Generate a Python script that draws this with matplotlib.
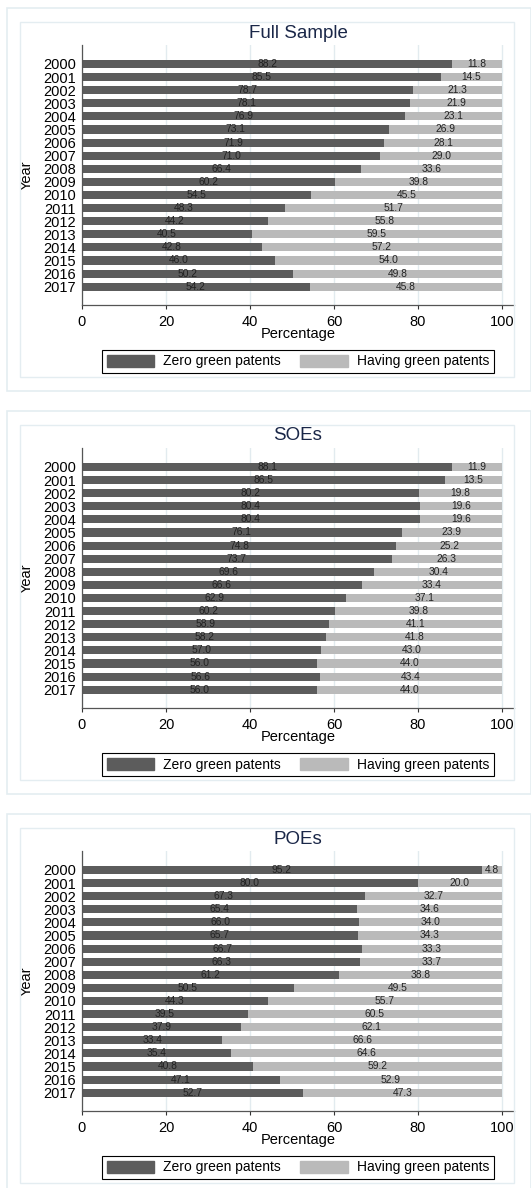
import numpy as np
import matplotlib.pyplot as plt
from matplotlib.patches import Rectangle

plt.rcParams['font.family'] = ['Liberation Sans', 'DejaVu Sans']

# Data
years = [str(y) for y in range(2000, 2018)]
full_zero = [88.2, 85.5, 78.7, 78.1, 76.9, 73.1, 71.9, 71.0, 66.4, 60.2,
             54.5, 48.3, 44.2, 40.5, 42.8, 46.0, 50.2, 54.2]
full_having = [11.8, 14.5, 21.3, 21.9, 23.1, 26.9, 28.1, 29.0, 33.6, 39.8,
               45.5, 51.7, 55.8, 59.5, 57.2, 54.0, 49.8, 45.8]
soe_zero = [88.1, 86.5, 80.2, 80.4, 80.4, 76.1, 74.8, 73.7, 69.6, 66.6,
            62.9, 60.2, 58.9, 58.2, 57.0, 56.0, 56.6, 56.0]
soe_having = [11.9, 13.5, 19.8, 19.6, 19.6, 23.9, 25.2, 26.3, 30.4, 33.4,
              37.1, 39.8, 41.1, 41.8, 43.0, 44.0, 43.4, 44.0]
poe_zero = [95.2, 80.0, 67.3, 65.4, 66.0, 65.7, 66.7, 66.3, 61.2, 50.5,
            44.3, 39.5, 37.9, 33.4, 35.4, 40.8, 47.1, 52.7]
poe_having = [4.8, 20.0, 32.7, 34.6, 34.0, 34.3, 33.3, 33.7, 38.8, 49.5,
              55.7, 60.5, 62.1, 66.6, 64.6, 59.2, 52.9, 47.3]
titles = ['Full Sample', 'SOEs', 'POEs']
series_labels = ['Zero green patents', 'Having green patents']

W, H = 531, 1188
DARK = '#5c5c5c'
LIGHT = '#bababa'
GRID = '#e2ebef'
BOX = '#e4edf1'

fig = plt.figure(figsize=(W / 100, H / 100), dpi=100)
fig.patch.set_facecolor('white')


def fx(px):
    return px / W


def fy(py):
    return 1 - py / H


def draw_panel(off, title, zero, having):
    # outer and inner frames
    fig.patches.append(Rectangle((fx(7), fy(391 + off)), fx(531 - 7), (391 - 8) / H,
                                 transform=fig.transFigure, fill=False,
                                 edgecolor=BOX, linewidth=1.2))
    fig.patches.append(Rectangle((fx(20), fy(377 + off)), fx(514 - 20), (377 - 22) / H,
                                 transform=fig.transFigure, fill=False,
                                 edgecolor=BOX, linewidth=1.0))
    fig.text(fx(298), fy(33 + off), title, ha='center', va='center',
             fontsize=13.5, color='#1a2748')

    ax = fig.add_axes([fx(82), fy(305 + off), fx(514 - 82), (305 - 45) / H])
    pos = np.arange(len(years))
    ax.barh(pos, zero, height=0.62, color=DARK, zorder=2)
    ax.barh(pos, having, left=zero, height=0.62, color=LIGHT, zorder=2)
    for i in range(len(years)):
        ax.text(zero[i] / 2, pos[i], f'{zero[i]:.1f}', ha='center', va='center',
                fontsize=7.4, color='#222222', zorder=3)
        ax.text(zero[i] + having[i] / 2, pos[i], f'{having[i]:.1f}', ha='center',
                va='center', fontsize=7.4, color='#222222', zorder=3)

    ax.set_xlim(0, 102.86)
    ax.set_ylim(len(years) - 1 + 1.4, -1.45)
    ax.set_yticks(pos)
    ax.set_yticklabels(years)
    ax.set_xticks([0, 20, 40, 60, 80, 100])
    ax.tick_params(axis='y', length=0, pad=4.5, labelsize=10.5)
    ax.tick_params(axis='x', length=3, width=0.8, pad=4, labelsize=10.5,
                   color='#333333')
    ax.grid(axis='x', color=GRID, linewidth=1.0, zorder=0)
    for s in ['top', 'right']:
        ax.spines[s].set_visible(False)
    for s in ['left', 'bottom']:
        ax.spines[s].set_color('#555555')
        ax.spines[s].set_linewidth(0.9)
    ax.set_xlabel('Percentage', fontsize=10.5)
    ax.xaxis.set_label_coords(0.5, (305 - 334) / (305 - 45), transform=ax.transAxes)
    ax.xaxis.label.set_va('center')
    ax.set_ylabel('Year', fontsize=10.5)
    ax.yaxis.set_label_coords((27 - 82) / (514 - 82), 0.5)
    ax.yaxis.label.set_va('center')

    handles = [Rectangle((0, 0), 1, 1, color=DARK), Rectangle((0, 0), 1, 1, color=LIGHT)]
    leg = ax.legend(handles, series_labels, loc='center', ncol=2,
                    bbox_to_anchor=(fx(298), fy(361.5 + off)),
                    bbox_transform=fig.transFigure, fontsize=10,
                    handlelength=3.4, handleheight=1.0, handletextpad=0.65,
                    columnspacing=1.4, borderpad=0.35, fancybox=False,
                    framealpha=1, edgecolor='black')
    leg.get_frame().set_linewidth(0.8)


draw_panel(0, titles[0], full_zero, full_having)
draw_panel(403, titles[1], soe_zero, soe_having)
draw_panel(806, titles[2], poe_zero, poe_having)

fig.savefig('out.png', dpi=100)
